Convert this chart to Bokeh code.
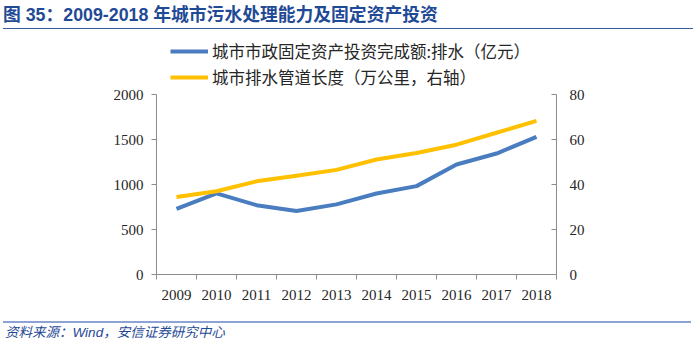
from bokeh.plotting import figure
from bokeh.models import Range1d, LinearAxis, FixedTicker, Legend, LegendItem, Div
from bokeh.layouts import column
from bokeh.embed import file_html
from bokeh.resources import INLINE

years = ["2009", "2010", "2011", "2012", "2013", "2014", "2015", "2016", "2017", "2018"]
invest = [730, 902, 770, 705, 779, 900, 982, 1222, 1344, 1530]          # 亿元, left axis
pipe_len = [34.4, 37.0, 41.4, 43.9, 46.5, 51.1, 54.0, 57.7, 63.0, 68.3]  # 万公里, right axis
left_ticks = [0, 500, 1000, 1500, 2000]
right_ticks = [0, 20, 40, 60, 80]

title_text = "图 35：2009-2018 年城市污水处理能力及固定资产投资"
source_text = "资料来源：Wind，安信证券研究中心"
legend_invest = "城市市政固定资产投资完成额:排水（亿元）"
legend_pipe = "城市排水管道长度（万公里，右轴）"

W = 700
TITLE_H = 31
FIG_H = 289
SRC_H = 25

# canvas pixel layout of the plotting frame
FRAME_TOP, AXIS_TOP, FRAME_BOTTOM = 36, 94, 274
FRAME_LEFT, FRAME_RIGHT = 156, 556
scale_up = (FRAME_BOTTOM - FRAME_TOP) / (FRAME_BOTTOM - AXIS_TOP)

title_div = Div(
    text=('<div style="width:690px;height:29px;margin:0 0 0 3px;padding:0;'
          'border-bottom:1.5px solid #3B5C9E;font-family:\'Liberation Sans\',\'Noto Sans CJK SC\';'
          'font-weight:bold;font-size:17.8px;color:#1F4A96;line-height:30px;white-space:nowrap;">'
          + title_text + '</div>'),
    width=W, height=TITLE_H, margin=0)

source_div = Div(
    text=('<div style="width:688px;height:20px;margin:1px 0 0 3px;padding:0 0 0 2px;'
          'border-top:2.5px solid #8DA3D3;font-family:\'Liberation Sans\',\'Noto Sans CJK SC\';'
          'font-style:italic;font-size:13.5px;color:#1F4A96;line-height:20px;white-space:nowrap;">'
          + source_text + '</div>'),
    width=W, height=SRC_H, margin=0)

xs = [i + 0.5 for i in range(len(years))]

p = figure(width=W, height=FIG_H, output_backend="svg", toolbar_location=None,
           x_range=Range1d(0, len(years)),
           y_range=Range1d(left_ticks[0], left_ticks[-1] * scale_up),
           min_border_left=FRAME_LEFT, min_border_right=W - FRAME_RIGHT,
           min_border_top=FRAME_TOP - TITLE_H,
           min_border_bottom=TITLE_H + FIG_H - FRAME_BOTTOM,
           x_axis_location=None, y_axis_location=None, margin=0)
p.outline_line_color = None
p.grid.visible = False
p.background_fill_color = "white"
p.border_fill_color = "white"
p.extra_y_ranges = {"right": Range1d(right_ticks[0], right_ticks[-1] * scale_up)}

num_font = "Liberation Serif"
axis_color = "#8c8c8c"

xaxis = LinearAxis(ticker=FixedTicker(ticks=xs, minor_ticks=list(range(len(years) + 1))),
                   major_label_overrides={x: y for x, y in zip(xs, years)})
xaxis.major_tick_out = 0
xaxis.major_tick_in = 0
xaxis.minor_tick_out = 5
xaxis.minor_tick_in = 0
xaxis.major_label_standoff = 10
p.add_layout(xaxis, "below")

yaxis = LinearAxis(ticker=FixedTicker(ticks=left_ticks), bounds=(left_ticks[0], left_ticks[-1]))
yaxis.major_tick_out = 5
yaxis.major_tick_in = 0
yaxis.major_label_standoff = 8
p.add_layout(yaxis, "left")

raxis = LinearAxis(y_range_name="right", ticker=FixedTicker(ticks=right_ticks),
                   bounds=(right_ticks[0], right_ticks[-1]))
raxis.major_tick_out = 0
raxis.major_tick_in = 5
raxis.major_label_standoff = 13
p.add_layout(raxis, "right")

for ax in (xaxis, yaxis, raxis):
    ax.axis_line_color = axis_color
    ax.major_tick_line_color = axis_color
    ax.minor_tick_line_color = axis_color if ax is xaxis else None
    ax.major_label_text_font = num_font
    ax.major_label_text_font_size = "15px"
    ax.major_label_text_color = "#262626"

blue = "#4A7DC0"
yellow = "#FFC000"
r1 = p.line(xs, invest, line_color=blue, line_width=4)
r2 = p.line(xs, pipe_len, line_color=yellow, line_width=4, y_range_name="right")

row_h = 24
row_gap = 2
legend_h = 2 * row_h + row_gap
legend_top = 39  # canvas px
frame_h = FRAME_BOTTOM - FRAME_TOP
legend = Legend(items=[LegendItem(label=legend_invest, renderers=[r1]),
                       LegendItem(label=legend_pipe, renderers=[r2])],
                location=(170 - FRAME_LEFT, frame_h - (legend_top - FRAME_TOP) - legend_h),
                orientation="vertical")
legend.border_line_color = None
legend.background_fill_alpha = 0
legend.padding = 0
legend.margin = 0
legend.spacing = row_gap
legend.glyph_width = 38
legend.glyph_height = row_h
legend.label_height = row_h
legend.label_standoff = 4
legend.label_text_font = "Noto Sans CJK SC"
legend.label_text_font_size = "16.5px"
legend.label_text_color = "#262626"
p.add_layout(legend, "center")

layout = column(title_div, p, source_div, spacing=0, margin=0)

open("out.html", "w").write(file_html(layout, INLINE))
